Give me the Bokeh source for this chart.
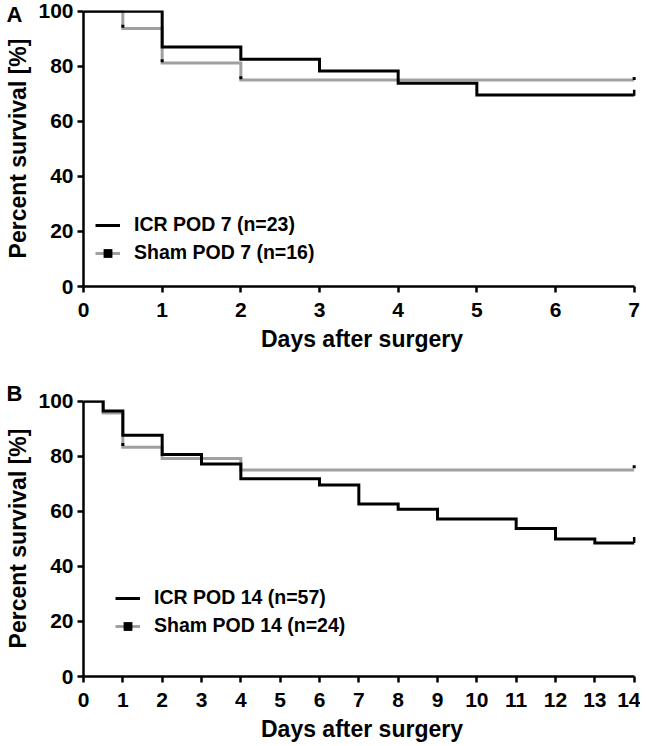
import math
from bokeh.plotting import figure
from bokeh.layouts import column
from bokeh.models import FixedTicker, Legend, LegendItem, Range1d
from bokeh.embed import file_html
from bokeh.resources import INLINE

# ---------------- data ----------------
# Panel A (POD 7)
a_icr_days = [0, 1, 2, 3, 4, 5, 7]
a_icr_surv = [100, 87.0, 82.6, 78.3, 73.9, 69.6, 69.6]
a_sham_days = [0, 0.5, 1, 2, 7]
a_sham_surv = [100, 93.75, 81.25, 75.0, 75.0]
a_icr_cens_days = [7]
a_icr_cens_surv = [70.4]
a_sham_cens_days = [0.5, 1, 2, 7]
a_sham_cens_surv = [94.6, 82.0, 75.9, 75.6]
a_ticks = [0, 1, 2, 3, 4, 5, 6, 7]
a_labels = ["ICR POD 7 (n=23)", "Sham POD 7 (n=16)"]

# Panel B (POD 14)
b_icr_days = [0, 0.5, 1, 2, 3, 4, 6, 7, 8, 9, 11, 12, 13, 14]
b_icr_surv = [100, 96.5, 87.7, 80.7, 77.2, 71.9, 69.6, 62.7, 60.8, 57.2, 53.8, 50.0, 48.5, 48.5]
b_sham_days = [0, 0.5, 1, 2, 4, 14]
b_sham_surv = [100, 95.8, 83.3, 79.2, 75.0, 75.0]
b_icr_cens_days = [14]
b_icr_cens_surv = [49.6]
b_sham_cens_days = [1, 14]
b_sham_cens_surv = [84.3, 76.2]
b_ticks = list(range(15))
b_labels = ["ICR POD 14 (n=57)", "Sham POD 14 (n=24)"]

y_ticks = [0, 20, 40, 60, 80, 100]

FONT = "Liberation Sans"
BLACK = "#000000"
GRAY = "#a0a0a0"


def panel(letter, xmax, xticks, icr, sham, icr_c, sham_c, labels,
          height, top, bottom, legend_loc, title_standoff):
    p = figure(width=640, height=height,
               x_range=Range1d(0, xmax * 1.0115), y_range=Range1d(0, 100.3),
               output_backend="svg", toolbar_location=None,
               min_border_left=83, min_border_right=0,
               min_border_top=top, min_border_bottom=bottom)
    p.outline_line_color = None
    p.xgrid.grid_line_color = None
    p.ygrid.grid_line_color = None
    p.background_fill_color = "white"
    p.border_fill_color = "white"

    # panel letter as the figure title, pulled to the far left
    p.title.text = letter
    p.title.text_font = FONT
    p.title.text_font_style = "bold"
    p.title.text_font_size = "22px"
    p.title.text_color = BLACK
    p.title.align = "left"
    p.title.offset = -77
    p.title.standoff = title_standoff
    p.title.vertical_align = "bottom"

    for ax in (p.xaxis[0], p.yaxis[0]):
        ax.axis_line_width = 2.5
        ax.axis_line_color = BLACK
        ax.major_tick_line_width = 2.5
        ax.major_tick_line_color = BLACK
        ax.major_tick_out = 6
        ax.major_tick_in = 0
        ax.minor_tick_line_color = None
        ax.major_label_text_font = FONT
        ax.major_label_text_font_style = "bold"
        ax.major_label_text_font_size = "21px"
        ax.major_label_text_color = BLACK
        ax.axis_label_text_font = FONT
        ax.axis_label_text_font_style = "bold"
        ax.axis_label_text_font_size = "23px"
        ax.axis_label_text_color = BLACK

    p.xaxis.ticker = FixedTicker(ticks=xticks)
    p.xaxis.bounds = (0, xmax)
    p.xaxis.axis_label = "Days after surgery"
    p.xaxis.major_label_standoff = 10
    p.xaxis.axis_label_standoff = 6

    p.yaxis.ticker = FixedTicker(ticks=y_ticks)
    p.yaxis.bounds = (0, 100)
    p.yaxis.axis_label = "Percent survival [%]"
    p.yaxis.major_label_standoff = 4
    p.yaxis.axis_label_standoff = 4

    r_sham = p.step(sham[0], sham[1], mode="after", line_width=3, line_color=GRAY,
                    line_join="miter")
    r_icr = p.step(icr[0], icr[1], mode="after", line_width=3, line_color=BLACK,
                   line_join="miter")
    m_sham = p.scatter(sham_c[0], sham_c[1], marker="square", size=3,
                       fill_color=BLACK, line_color=None)
    m_icr = p.scatter(icr_c[0], icr_c[1], marker="dash", angle=math.pi / 2, size=6,
                      line_color=BLACK, line_width=2.5)

    legend = Legend(items=[LegendItem(label=labels[0], renderers=[r_icr, m_icr]),
                           LegendItem(label=labels[1], renderers=[r_sham, m_sham])],
                    location=legend_loc)
    legend.border_line_color = None
    legend.background_fill_alpha = 0
    legend.padding = 0
    legend.margin = 0
    legend.spacing = 5
    legend.glyph_width = 25
    legend.glyph_height = 22
    legend.label_height = 22
    legend.label_standoff = 14
    legend.label_text_font = FONT
    legend.label_text_font_style = "bold"
    legend.label_text_font_size = "19.5px"
    legend.label_text_color = BLACK
    p.add_layout(legend)
    return p


pa = panel("A", 7, a_ticks, (a_icr_days, a_icr_surv), (a_sham_days, a_sham_surv),
           (a_icr_cens_days, a_icr_cens_surv), (a_sham_cens_days, a_sham_cens_surv),
           a_labels, height=366, top=10, bottom=80, legend_loc=(12, 22),
           title_standoff=-32)
pb = panel("B", 14, b_ticks, (b_icr_days, b_icr_surv), (b_sham_days, b_sham_surv),
           (b_icr_cens_days, b_icr_cens_surv), (b_sham_cens_days, b_sham_cens_surv),
           b_labels, height=378, top=34, bottom=68, legend_loc=(32, 39),
           title_standoff=-11)

layout = column(pa, pb, spacing=0)
open("out.html", "w").write(file_html(layout, INLINE))
